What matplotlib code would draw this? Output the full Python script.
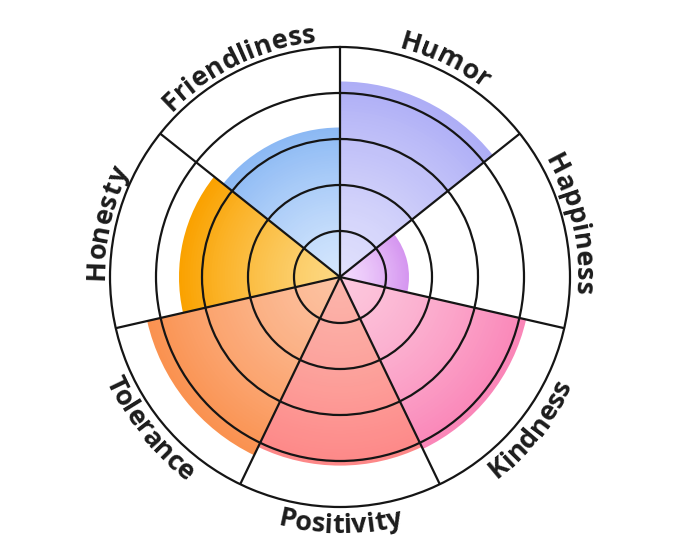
import matplotlib.pyplot as plt
import numpy as np
from matplotlib.colors import to_rgb
from matplotlib.transforms import IdentityTransform

traits = ["Humor", "Happiness", "Kindness", "Positivity", "Tolerance", "Honesty", "Friendliness"]
scores = [4.25, 1.5, 4.15, 4.1, 4.3, 3.5, 3.25]
outer_colors = ["#aeaef6", "#d596f0", "#fa86b8", "#fd8888", "#fa9250", "#faa200", "#8cb9f4"]
inner_colors = ["#e0e0fc", "#f4dcfd", "#fcc8dd", "#fcb4aa", "#fcc2a2", "#fcd882", "#d4e6fd"]
ring_levels = [1, 2, 3, 4]
max_score = 5

fig = plt.figure(figsize=(6.8, 5.57), dpi=100)
ax = fig.add_axes([110 / 680, 50 / 557, 460 / 680, 460 / 557], projection="polar")
ax.set_theta_zero_location("N")
ax.set_theta_direction(-1)

n = len(traits)
width = 2 * np.pi / n
theta = np.arange(n) * width + width / 2

# radial gradient: stack bars from outer colour to inner colour
steps = 60
for th, val, c_out, c_in in zip(theta, scores, outer_colors, inner_colors):
    c0 = np.array(to_rgb(c_out))
    c1 = np.array(to_rgb(c_in))
    for k in range(steps):
        f = 1 - k / steps
        col = c1 + (c0 - c1) * f ** 1.3
        ax.bar(th, val * f, width=width, bottom=0, color=col, linewidth=0, zorder=1)

ax.set_ylim(0, max_score)
ax.set_rticks(ring_levels)
ax.set_yticklabels([])
ax.set_xticks(np.arange(n) * width)
ax.set_xticklabels([])
ax.grid(True, color="#151515", linewidth=1.6)
ax.set_axisbelow(False)
ax.spines["polar"].set_color("#151515")
ax.spines["polar"].set_linewidth(1.6)

# curved labels around the circle
fig.canvas.draw()
renderer = fig.canvas.get_renderer()
center = ax.transData.transform((0, 0))
edge = ax.transData.transform((0, max_score))
r_px = np.hypot(*(edge - center))
font = dict(fontsize=19.5, fontweight="bold", family="Open Sans", color="#1c1c1c")


def text_width(s):
    if not s:
        return 0.0
    t = fig.text(0, 0, s, **font)
    w = t.get_window_extent(renderer).width
    t.remove()
    return w


for label, th in zip(traits, theta):
    ang = np.pi / 2 - th  # math angle, counterclockwise from east
    upper = np.sin(ang) > 0.01
    widths = [text_width(label[:i]) for i in range(len(label) + 1)]
    total = widths[-1]
    base_r = r_px + 6 if upper else r_px + 26
    for i, ch in enumerate(label):
        s = (widths[i] + widths[i + 1]) / 2 - total / 2
        if upper:
            a = ang - s / base_r
            rot = np.degrees(a) - 90
        else:
            a = ang + s / base_r
            rot = np.degrees(a) + 90
        x = center[0] + base_r * np.cos(a)
        y = center[1] + base_r * np.sin(a)
        fig.text(x, y, ch, transform=IdentityTransform(), rotation=rot,
                 rotation_mode="anchor", ha="center", va="baseline", **font)

fig.savefig("out.png", dpi=100, facecolor="white")
